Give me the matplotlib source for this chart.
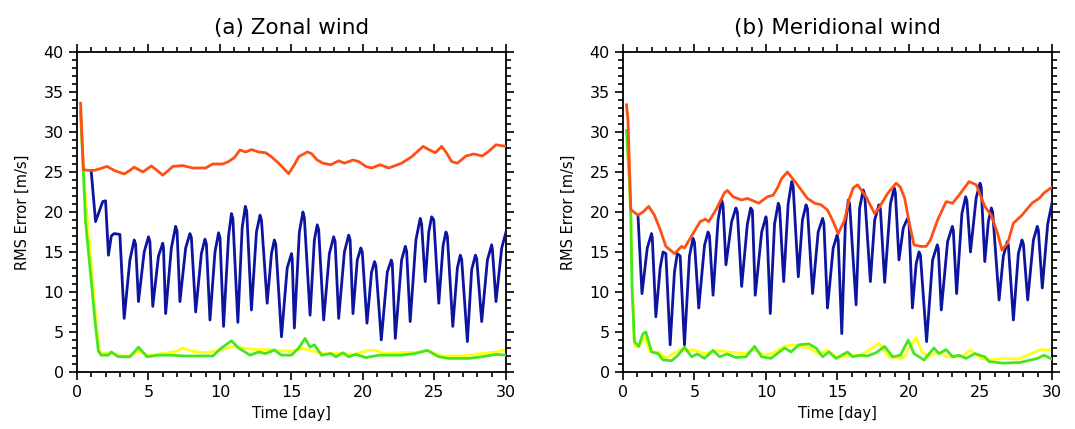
import numpy as np
import matplotlib
matplotlib.use("Agg")
import matplotlib.pyplot as plt
from matplotlib import ticker

# ---- data (time in days, RMS error in m/s) ----
# (a) zonal wind
u_red_t = [0.25, 0.45, 0.8, 1.2, 1.6, 2.1, 2.6, 3.3, 3.7, 4.0, 4.6, 5.2, 5.6, 6.0, 6.4, 6.7, 7.4, 8.1, 9.0, 9.5,
           10.2, 10.6, 11.0, 11.4, 11.8, 12.2, 12.7, 13.2, 13.6, 14.1, 14.8, 15.2, 15.5, 16.1, 16.4, 16.8, 17.2,
           17.75, 18.3, 18.7, 19.3, 19.7, 20.2, 20.6, 21.2, 21.8, 22.7, 23.4, 24.2, 24.6, 25.06, 25.5, 25.8, 26.2,
           26.6, 27.2, 27.75, 28.35, 28.8, 29.3, 30.0]
u_red = [33.6, 25.3, 25.2, 25.2, 25.4, 25.7, 25.2, 24.75, 25.2, 25.6, 25.0, 25.75, 25.2, 24.6, 25.2, 25.7, 25.8,
         25.5, 25.5, 26.0, 26.0, 26.3, 26.8, 27.75, 27.5, 27.8, 27.5, 27.4, 26.9, 26.1, 24.8, 25.9, 26.9, 27.5,
         27.3, 26.5, 26.1, 25.9, 26.4, 26.1, 26.5, 26.3, 25.7, 25.5, 25.9, 25.5, 26.1, 26.9, 28.2, 27.8, 27.4,
         28.2, 27.5, 26.3, 26.1, 27.0, 27.25, 27.0, 27.6, 28.4, 28.2]

u_blue_t = [1.0, 1.3, 1.8, 2.0, 2.2, 2.4, 2.6, 3.0, 3.3, 3.7, 4.0, 4.1, 4.3, 4.7, 5.0, 5.1, 5.3, 5.7, 6.0, 6.05,
            6.2, 6.6, 6.9, 7.0, 7.2, 7.6, 7.9, 8.0, 8.3, 8.7, 8.95, 9.05, 9.3, 9.65, 9.9, 10.0, 10.25, 10.6, 10.8,
            10.9, 11.25, 11.55, 11.77, 11.87, 12.2, 12.55, 12.8, 12.9, 13.3, 13.6, 13.8, 13.9, 14.3, 14.7, 15.0,
            15.05, 15.2, 15.55, 15.8, 15.9, 16.3, 16.6, 16.8, 16.9, 17.25, 17.65, 17.95, 18.05, 18.3, 18.7, 19.0,
            19.1, 19.3, 19.6, 19.85, 19.95, 20.28, 20.6, 20.81, 20.9, 21.28, 21.7, 21.98, 22.05, 22.26, 22.7,
            22.96, 23.05, 23.3, 23.7, 24.0, 24.1, 24.35, 24.6, 24.8, 24.95, 25.3, 25.6, 25.8, 25.9, 26.28, 26.6,
            26.8, 26.9, 27.3, 27.6, 27.86, 27.95, 28.3, 28.7, 29.0, 29.05, 29.3, 29.7, 30.0]
u_blue = [25.0, 18.8, 21.3, 21.4, 14.6, 17.0, 17.3, 17.2, 6.7, 14.0, 16.5, 16.0, 8.8, 15.0, 16.9, 16.3, 8.2, 14.5,
          16.1, 15.5, 7.3, 15.5, 18.2, 17.6, 8.8, 15.5, 17.3, 16.8, 7.5, 14.8, 16.6, 16.0, 6.5, 15.0, 17.4, 16.8,
          5.7, 17.0, 19.8, 19.2, 6.2, 18.0, 20.7, 20.1, 7.75, 17.5, 19.6, 19.0, 8.6, 14.8, 16.5, 16.0, 4.4, 13.0,
          14.8, 14.2, 5.5, 17.5, 20.0, 19.3, 7.1, 16.5, 18.4, 17.8, 6.5, 14.8, 16.9, 16.3, 6.7, 15.0, 17.1, 16.5,
          7.3, 14.0, 15.5, 15.0, 6.1, 12.5, 13.8, 13.3, 4.0, 12.5, 14.0, 13.5, 4.2, 14.0, 15.7, 15.1, 6.3, 16.5,
          19.2, 18.5, 11.3, 17.5, 19.4, 19.0, 8.6, 15.8, 17.5, 17.0, 5.7, 13.0, 14.6, 14.1, 3.8, 12.8, 14.6, 14.2,
          6.3, 14.0, 15.9, 15.3, 8.8, 15.5, 17.5]

u_green_t = [0.25, 0.45, 0.6, 0.95, 1.3, 1.5, 1.7, 2.2, 2.4, 2.9, 3.7, 4.3, 4.9, 5.7, 6.7, 7.4, 9.5, 10.1, 10.8,
             11.3, 12.1, 12.7, 13.2, 13.8, 14.3, 15.0, 15.5, 15.95, 16.3, 16.6, 17.1, 17.75, 18.1, 18.6, 19.0,
             19.5, 20.2, 21.1, 22.7, 23.6, 24.5, 25.3, 26.0, 27.4, 28.3, 29.3, 30.0]
u_green = [32.5, 25.0, 18.8, 12.3, 5.7, 2.6, 2.1, 2.1, 2.5, 1.9, 1.9, 3.1, 1.9, 2.1, 2.1, 2.0, 2.0, 3.0, 3.9, 3.0,
           2.1, 2.5, 2.3, 2.75, 2.1, 2.1, 3.0, 4.2, 3.1, 3.4, 2.1, 2.3, 1.9, 2.4, 1.9, 2.2, 1.8, 2.1, 2.1, 2.3,
           2.7, 1.9, 1.7, 1.7, 1.9, 2.2, 2.1]

u_yellow_t = [0.25, 0.5, 0.75, 1.05, 1.35, 1.55, 1.8, 2.3, 3.0, 3.7, 4.3, 5.0, 6.0, 7.0, 7.4, 8.0, 9.0, 9.6, 10.3,
              11.0, 11.6, 12.5, 13.3, 14.0, 15.0, 15.8, 16.5, 17.3, 18.3, 19.3, 20.4, 20.9, 21.5, 22.5, 24.0,
              24.5, 25.5, 27.0, 28.0, 29.3, 30.0]
u_yellow = [32.5, 24.0, 18.5, 12.5, 6.0, 2.8, 2.2, 2.4, 2.0, 2.0, 2.6, 2.1, 2.3, 2.6, 3.0, 2.6, 2.4, 2.6, 2.9,
            3.2, 3.0, 2.8, 2.8, 2.7, 2.6, 2.9, 2.6, 2.3, 2.3, 2.2, 2.7, 2.7, 2.3, 2.4, 2.5, 2.7, 2.0, 2.0, 2.25,
            2.5, 2.8]

# (b) meridional wind
v_red_t = [0.25, 0.35, 0.55, 1.05, 1.4, 1.8, 2.2, 2.6, 3.0, 3.6, 4.1, 4.3, 4.9, 5.4, 5.75, 6.0, 6.5, 7.1, 7.3,
           7.7, 8.3, 8.7, 9.5, 10.1, 10.5, 10.8, 11.1, 11.5, 12.2, 12.9, 13.4, 13.85, 14.3, 14.7, 15.05, 15.5,
           15.8, 16.1, 16.4, 17.0, 17.6, 17.9, 18.5, 19.1, 19.4, 19.7, 20.0, 20.35, 20.8, 21.2, 21.5, 22.0, 22.6,
           23.05, 23.5, 24.2, 24.7, 25.3, 25.75, 26.2, 26.5, 26.9, 27.3, 27.9, 28.6, 29.1, 29.45, 30.0]
v_red = [33.4, 31.5, 20.3, 19.6, 20.0, 20.7, 19.6, 17.8, 15.7, 14.8, 15.7, 15.5, 17.3, 18.8, 19.1, 18.8, 20.25,
         22.4, 22.7, 21.9, 21.5, 21.7, 21.1, 21.9, 22.1, 23.0, 24.2, 25.0, 23.4, 21.7, 21.1, 20.9, 20.25, 18.8,
         17.3, 19.0, 21.5, 23.0, 23.4, 21.9, 19.8, 20.5, 22.3, 23.6, 23.1, 21.7, 18.8, 15.9, 15.7, 15.7, 16.5,
         19.0, 21.3, 21.1, 22.1, 23.8, 23.4, 20.7, 19.6, 17.3, 15.25, 16.1, 18.6, 19.6, 21.1, 21.7, 22.4, 23.1]

v_blue_t = [1.05, 1.33, 1.7, 2.0, 2.05, 2.3, 2.6, 2.8, 3.0, 3.3, 3.6, 3.8, 4.0, 4.3, 4.65, 4.9, 5.0, 5.3, 5.7,
            5.95, 6.05, 6.3, 6.65, 6.9, 7.0, 7.2, 7.6, 7.9, 8.0, 8.3, 8.7, 8.93, 9.05, 9.25, 9.7, 10.0, 10.05,
            10.3, 10.6, 10.86, 10.95, 11.24, 11.55, 11.8, 11.9, 12.26, 12.55, 12.8, 12.9, 13.26, 13.65, 13.96,
            14.05, 14.3, 14.7, 14.97, 15.05, 15.3, 15.55, 15.76, 15.85, 16.3, 16.55, 16.8, 16.9, 17.3, 17.6, 17.9,
            18.0, 18.3, 18.7, 18.97, 19.05, 19.3, 19.6, 19.9, 20.0, 20.24, 20.5, 20.7, 20.8, 21.23, 21.65, 21.98,
            22.05, 22.26, 22.7, 23.03, 23.1, 23.33, 23.7, 23.96, 24.05, 24.3, 24.7, 24.97, 25.05, 25.3, 25.55,
            25.76, 25.85, 26.3, 26.6, 26.88, 26.95, 27.3, 27.65, 27.9, 28.0, 28.3, 28.7, 28.97, 29.05, 29.32,
            29.7, 30.0]
v_blue = [19.6, 9.8, 15.5, 17.3, 16.8, 6.9, 13.0, 15.0, 14.8, 3.4, 12.5, 14.8, 14.5, 3.4, 14.5, 16.7, 16.2, 8.0,
          15.8, 17.5, 17.0, 9.6, 19.0, 21.5, 20.8, 13.4, 18.8, 20.5, 20.0, 10.7, 18.5, 20.5, 20.2, 9.6, 17.5, 19.4,
          18.8, 7.3, 18.5, 21.1, 20.6, 11.3, 21.0, 23.8, 23.2, 11.9, 19.0, 20.9, 20.4, 9.8, 17.5, 19.2, 18.6, 8.0,
          15.5, 17.1, 16.5, 4.8, 18.5, 21.5, 21.0, 8.4, 20.5, 22.75, 22.2, 11.3, 19.0, 20.9, 20.4, 11.2, 21.0,
          23.0, 22.4, 14.0, 18.0, 19.2, 18.7, 8.0, 13.5, 15.0, 14.6, 3.8, 14.0, 15.9, 15.4, 7.75, 16.3, 18.2, 17.7,
          9.8, 19.8, 21.9, 21.4, 15.0, 21.8, 23.6, 23.1, 13.8, 18.8, 20.5, 20.0, 9.0, 14.5, 16.3, 15.8, 6.5, 14.8,
          16.5, 16.0, 9.0, 16.5, 18.2, 17.7, 10.5, 18.5, 21.1]

v_green_t = [0.25, 0.45, 0.55, 0.63, 0.8, 1.1, 1.4, 1.6, 2.0, 2.45, 2.8, 3.4, 3.85, 4.3, 4.8, 5.2, 5.7, 6.3, 6.76,
             7.3, 7.9, 8.6, 9.2, 9.7, 10.35, 11.3, 11.75, 12.3, 13.0, 13.5, 13.96, 14.4, 14.9, 15.7, 16.06, 16.6,
             17.1, 17.7, 18.3, 18.85, 19.4, 19.95, 20.35, 21.05, 21.75, 22.1, 22.6, 23.05, 23.5, 24.0, 24.6, 25.3,
             25.6, 26.6, 27.8, 29.0, 29.45, 30.0]
v_green = [30.2, 24.0, 19.8, 10.7, 3.8, 3.2, 4.8, 5.0, 2.5, 2.3, 1.5, 1.4, 2.1, 3.1, 1.9, 2.25, 1.7, 2.7, 1.9,
           2.25, 1.8, 1.9, 3.2, 1.9, 1.7, 3.0, 2.5, 3.4, 3.5, 3.0, 1.9, 2.5, 1.7, 2.5, 1.9, 2.1, 2.0, 2.4, 3.2,
           1.9, 2.1, 4.0, 2.3, 1.5, 3.0, 2.3, 2.8, 1.9, 2.1, 1.7, 2.3, 1.9, 1.3, 1.1, 1.2, 1.7, 2.1, 1.6]

v_yellow_t = [0.25, 0.5, 0.65, 0.8, 1.1, 1.5, 1.9, 2.5, 3.0, 3.5, 4.0, 5.0, 5.7, 6.6, 7.3, 8.5, 9.2, 9.9, 10.4,
              11.3, 11.9, 12.4, 13.0, 13.7, 14.3, 15.0, 15.7, 16.6, 17.6, 17.9, 18.6, 19.4, 19.7, 20.0, 20.5,
              20.9, 21.4, 22.0, 22.7, 23.7, 24.3, 25.0, 25.7, 26.6, 27.6, 28.5, 29.2, 30.0]
v_yellow = [30.2, 22.0, 12.0, 3.2, 3.2, 4.4, 2.5, 2.5, 1.7, 2.3, 2.75, 2.75, 2.3, 2.7, 2.5, 2.3, 2.8, 2.1, 2.3,
            3.2, 3.4, 3.2, 3.0, 2.3, 2.75, 1.7, 2.1, 2.1, 3.2, 3.6, 1.9, 1.7, 1.9, 3.0, 4.3, 2.5, 1.9, 2.5, 1.9,
            1.9, 2.75, 1.7, 1.5, 1.7, 1.6, 2.25, 2.8, 2.7]

titles = ["(a) Zonal wind", "(b) Meridional wind"]

c_red = "#ff5014"
c_blue = "#0c14a0"
c_green = "#46e61e"
c_yellow = "#ffff14"

plt.rcParams['font.family'] = 'DejaVu Sans'

fig = plt.figure(figsize=(10.75, 4.29), dpi=100)
ax1 = fig.add_axes([0.0716, 0.1329, 0.3991, 0.7459])
ax2 = fig.add_axes([0.5795, 0.1329, 0.3991, 0.7459])

panels = [
    (ax1, u_red_t, u_red, u_blue_t, u_blue, u_green_t, u_green, u_yellow_t, u_yellow),
    (ax2, v_red_t, v_red, v_blue_t, v_blue, v_green_t, v_green, v_yellow_t, v_yellow),
]

for i, (ax, rt, r, bt, b, gt, g, yt, y) in enumerate(panels):
    ax.plot(yt, y, color=c_yellow, lw=2.0, zorder=2)
    ax.plot(gt, g, color=c_green, lw=2.0, zorder=3)
    ax.plot(bt, b, color=c_blue, lw=2.0, zorder=4)
    ax.plot(rt, r, color=c_red, lw=2.0, zorder=5)

    ax.set_xlim(0, 30)
    ax.set_ylim(0, 40)
    ax.xaxis.set_major_locator(ticker.MultipleLocator(5))
    ax.xaxis.set_minor_locator(ticker.MultipleLocator(1))
    ax.yaxis.set_major_locator(ticker.MultipleLocator(5))
    ax.yaxis.set_minor_locator(ticker.MultipleLocator(1))
    ax.tick_params(which='both', direction='out', top=True, right=True, width=1.2, labelsize=11.5)
    ax.tick_params(which='major', length=6)
    ax.tick_params(which='minor', length=3.5)
    for sp in ax.spines.values():
        sp.set_linewidth(1.3)

    ax.set_xlabel("Time [day]", fontsize=10.5)
    ax.set_ylabel("RMS Error [m/s]", fontsize=10.5, labelpad=10)
    ax.set_title(titles[i], fontsize=15.5, pad=13)

fig.set_facecolor('w')
plt.savefig('out.png', dpi=100)
